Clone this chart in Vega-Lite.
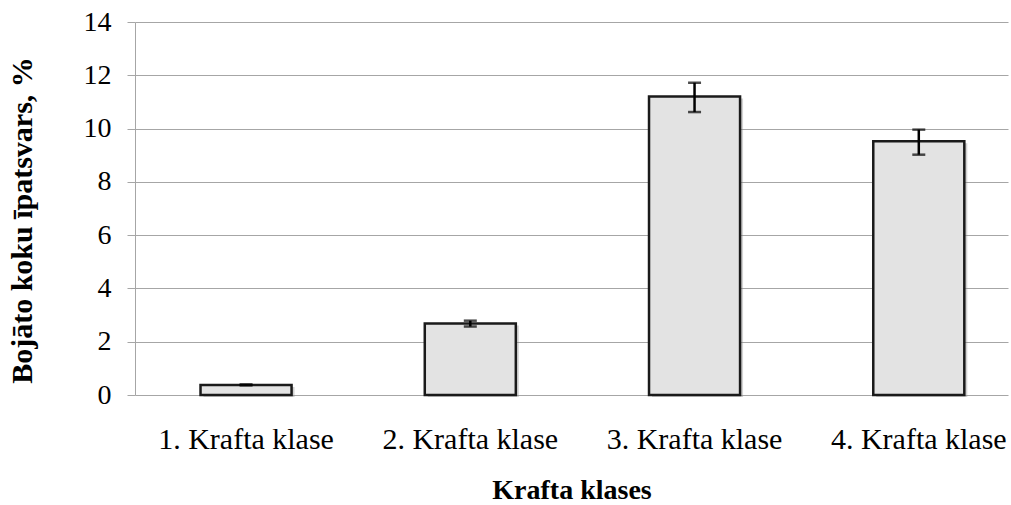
{
  "$schema": "https://vega.github.io/schema/vega-lite/v6.json",
  "width": 873,
  "height": 373,
  "autosize": {"type": "none"},
  "padding": {"left": 135, "top": 22, "right": 3, "bottom": 110},
  "background": "white",
  "config": {
    "view": {"stroke": null},
    "font": "Liberation Serif",
    "axis": {"labelFont": "Liberation Serif", "titleFont": "Liberation Serif", "labelColor": "black", "titleColor": "black"}
  },
  "data": {
    "values": [
      {"klase": "1. Krafta klase", "value": 0.38, "lo": 0.36, "hi": 0.40},
      {"klase": "2. Krafta klase", "value": 2.68, "lo": 2.57, "hi": 2.79},
      {"klase": "3. Krafta klase", "value": 11.2, "lo": 10.62, "hi": 11.72},
      {"klase": "4. Krafta klase", "value": 9.52, "lo": 9.02, "hi": 9.96}
    ]
  },
  "encoding": {
    "x": {
      "field": "klase",
      "type": "nominal",
      "sort": null,
      "scale": {"paddingInner": 0.594, "paddingOuter": 0.2435, "align": 0.6},
      "axis": {
        "title": "Krafta klases",
        "titleFontSize": 28,
        "titleFontWeight": "bold",
        "titlePadding": 22,
        "labelFontSize": 30,
        "labelAngle": 0,
        "labelPadding": 29,
        "ticks": false,
        "domain": false
      }
    }
  },
  "layer": [
    {
      "mark": {"type": "bar", "fill": "#808080", "opacity": 0.35, "xOffset": 3, "yOffset": 2, "strokeWidth": 0},
      "encoding": {
        "y": {
          "field": "value",
          "type": "quantitative",
          "title": "Bojāto koku īpatsvars, %",
          "scale": {"domain": [0, 14], "nice": false}
        }
      }
    },
    {
      "mark": {"type": "bar", "fill": "#e3e3e3", "stroke": "#1a1a1a", "strokeWidth": 2.5},
      "encoding": {
        "y": {
          "field": "value",
          "type": "quantitative",
          "title": "Bojāto koku īpatsvars, %",
          "scale": {"domain": [0, 14], "nice": false},
          "axis": {
            "values": [0, 2, 4, 6, 8, 10, 12, 14],
            "titleFontSize": 30,
            "titleFontWeight": "bold",
            "titlePadding": 46,
            "titleY": 198,
            "labelFontSize": 28,
            "labelPadding": 16,
            "tickSize": 8,
            "tickColor": "#a6a6a6",
            "domainColor": "#a6a6a6",
            "gridColor": "#a6a6a6",
            "grid": true
          }
        }
      }
    },
    {
      "mark": {"type": "errorbar", "ticks": {"size": 13, "thickness": 2.5, "color": "black"}, "rule": {"strokeWidth": 2.5, "color": "black"}, "color": "black"},
      "encoding": {
        "y": {"field": "lo", "type": "quantitative", "title": "Bojāto koku īpatsvars, %"},
        "y2": {"field": "hi"}
      }
    }
  ]
}
